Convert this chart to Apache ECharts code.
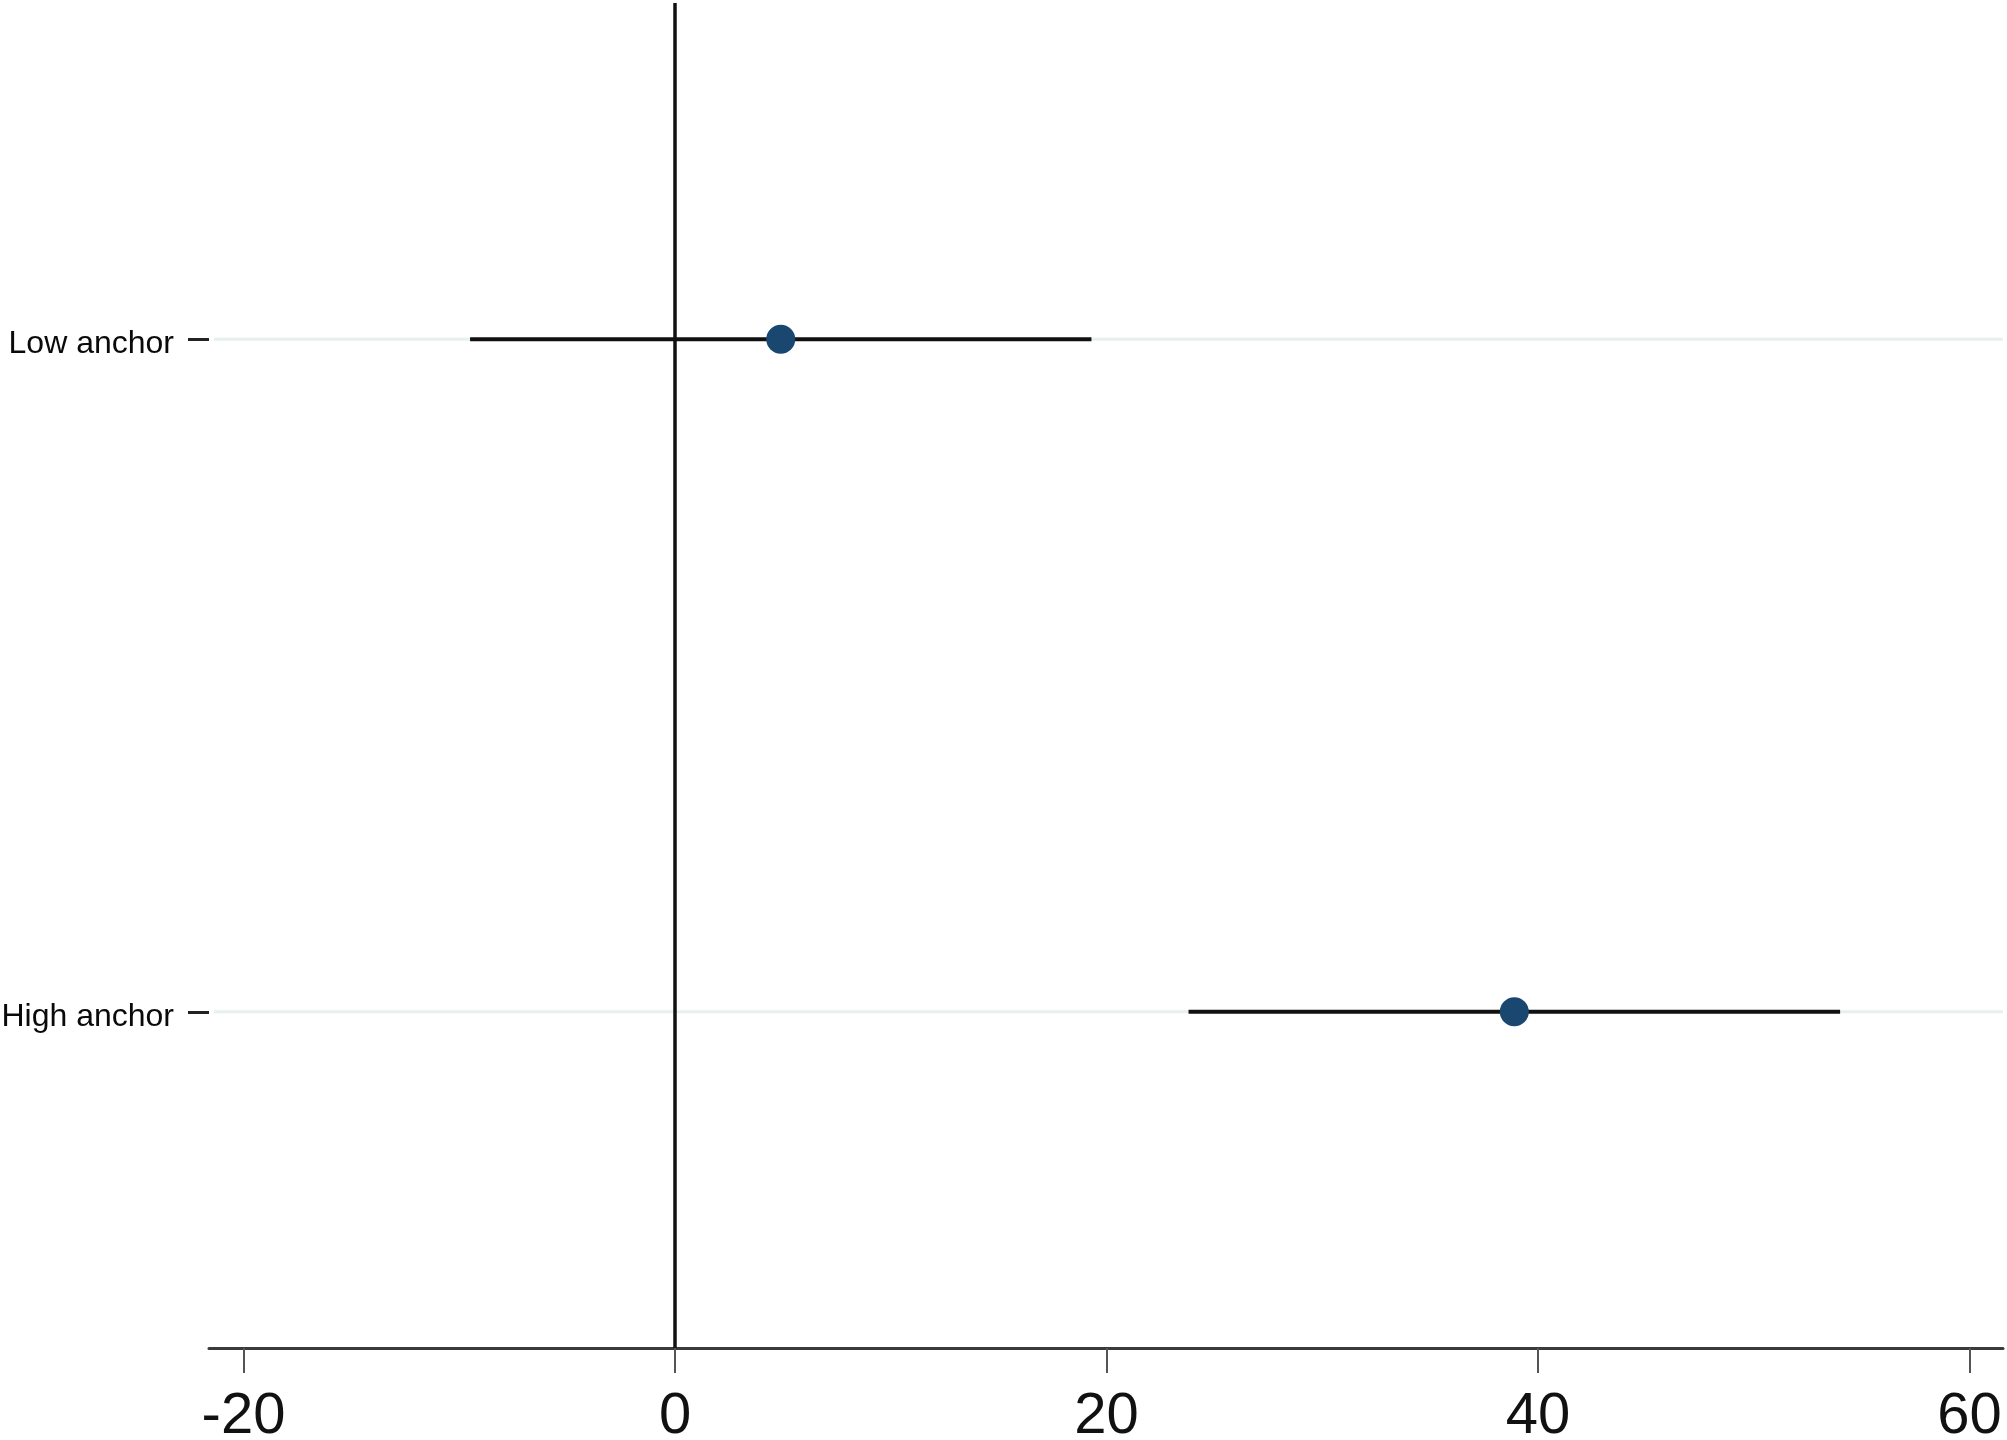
<!DOCTYPE html>
<html>
<head>
<meta charset="utf-8">
<script src="https://cdn.jsdelivr.net/npm/echarts@6/dist/echarts.min.js"></script>
<style>
html,body{margin:0;padding:0;background:#fff;}
#chart{width:2007px;height:1440px;}
</style>
</head>
<body>
<div id="chart"></div>
<script>
const categories = ['Low anchor', 'High anchor'];
const estimates = [4.9, 38.9];
const ciLow = [-9.5, 23.8];
const ciHigh = [19.3, 54.0];
const xTicks = [-20, 0, 20, 40, 60];
const xMin = -21.6;
const xMax = 61.55;

const chart = echarts.init(document.getElementById('chart'), null, {renderer: 'canvas'});

const ciData = categories.map((c, i) => [ciLow[i], ciHigh[i], c]);
const pointData = categories.map((c, i) => [estimates[i], c]);

chart.setOption({
  animation: false,
  backgroundColor: '#ffffff',
  grid: {left: 209, right: 4, top: 3, bottom: 92, containLabel: false, outerBoundsMode: 'none'},
  xAxis: {
    type: 'value',
    min: xMin,
    max: xMax,
    axisLine: {show: true, onZero: false, lineStyle: {color: '#3a3a3a', width: 3}},
    axisTick: {show: true, customValues: xTicks, length: 25, lineStyle: {color: '#555', width: 2}},
    axisLabel: {
      show: true, customValues: xTicks, margin: 40,
      fontFamily: "'Liberation Sans Narrow', 'Arial Narrow', 'Liberation Sans', sans-serif",
      fontSize: 58, color: '#111'
    },
    splitLine: {show: false}
  },
  yAxis: {
    type: 'category',
    data: categories,
    inverse: true,
    boundaryGap: true,
    axisLine: {show: false, onZero: false},
    axisTick: {show: true, alignWithLabel: true, length: 21, inside: false, lineStyle: {color: '#222', width: 3}},
    axisLabel: {
      margin: 35,
      formatter: function (v) { return '{l|' + v + '}'; },
      rich: {
        l: {
          fontFamily: "'Liberation Sans', Arial, sans-serif",
          fontSize: 32, color: '#0a0a0a', padding: [10, 0, 0, 0]
        }
      }
    },
    splitLine: {show: false}
  },
  series: [
    {
      type: 'custom',
      name: 'grid',
      silent: true,
      z: 1,
      data: categories.map(c => [c]),
      encode: {y: 0},
      renderItem: function (params, api) {
        const p = api.coord([xMin, api.value(0)]);
        const cs = params.coordSys;
        return {
          type: 'line',
          shape: {x1: cs.x + 5, y1: p[1], x2: cs.x + cs.width, y2: p[1]},
          style: {stroke: '#e6f0f0', lineWidth: 3}
        };
      }
    },
    {
      type: 'custom',
      name: 'ci',
      silent: true,
      z: 3,
      data: ciData,
      encode: {x: [0, 1], y: 2},
      renderItem: function (params, api) {
        const a = api.coord([api.value(0), api.value(2)]);
        const b = api.coord([api.value(1), api.value(2)]);
        return {
          type: 'line',
          shape: {x1: a[0], y1: a[1], x2: b[0], y2: b[1]},
          style: {stroke: '#111', lineWidth: 4}
        };
      }
    },
    {
      type: 'scatter',
      name: 'estimate',
      z: 5,
      data: pointData,
      symbol: 'circle',
      symbolSize: 29,
      itemStyle: {color: '#1a476f', opacity: 1},
      markLine: {
        silent: true,
        symbol: ['none', 'none'],
        label: {show: false},
        lineStyle: {color: '#111', width: 3.5, type: 'solid'},
        data: [{xAxis: 0}]
      }
    }
  ]
});
</script>
</body>
</html>
